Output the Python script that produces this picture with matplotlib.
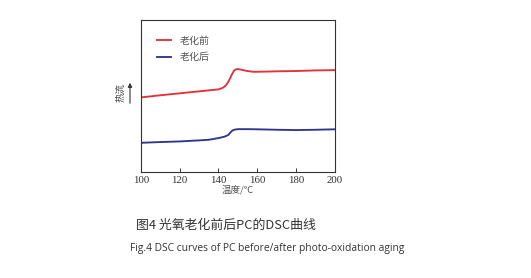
import matplotlib
matplotlib.use("Agg")
import matplotlib.pyplot as plt

# Data (arbitrary heat-flow units)
temp_before = [100, 110, 120, 130, 140, 142, 143, 144, 145, 146, 147, 148, 149, 150, 152, 154, 156, 158, 160, 170, 180, 190, 200]
flow_before = [49.0, 50.4, 51.7, 53.0, 54.3, 55.2, 56.0, 57.2, 59.2, 61.6, 64.4, 66.6, 67.5, 67.7, 67.2, 66.6, 66.2, 65.9, 65.9, 66.2, 66.4, 66.8, 67.0]
temp_after = [100, 110, 120, 130, 135, 140, 143, 145, 146, 147, 148, 150, 155, 160, 170, 180, 190, 200]
flow_after = [19.1, 19.6, 20.0, 20.7, 21.1, 22.2, 23.1, 24.2, 25.7, 27.0, 27.7, 28.1, 28.1, 28.0, 27.7, 27.5, 27.7, 28.0]
xticks = [100, 120, 140, 160, 180, 200]
labels = ["老化前", "老化后"]
caption_cn = "图4 光氧老化前后PC的DSC曲线"
caption_en = "Fig.4 DSC curves of PC before/after photo-oxidation aging"

cjk = ["Noto Sans CJK SC", "DejaVu Sans"]
serif = ["Liberation Serif", "Noto Sans CJK SC"]

fig = plt.figure(figsize=(5.31, 2.78), dpi=100)
ax = fig.add_axes([0.265, 0.382, 0.366, 0.546])
red = "#e2323c"
blue = "#2f3591"
ax.plot(temp_before, flow_before, color=red, lw=1.35, label=labels[0])
ax.plot(temp_after, flow_after, color=blue, lw=1.35, label=labels[1])
ax.set_xlim(100, 200)
ax.set_ylim(0, 100)
ax.set_xticks(xticks)
ax.set_xticklabels([str(t) for t in xticks], family=serif, fontsize=7.8, color="#333333")
ax.set_yticks([])
ax.tick_params(axis="x", direction="in", length=3, width=0.7, color="#333333", pad=3)
for s in ax.spines.values():
    s.set_color("#333333")
    s.set_linewidth(0.8)
ax.set_xlabel("温度/℃", family=["Noto Sans CJK SC", "DejaVu Sans"], fontsize=6.8, color="#555555", labelpad=0)

leg = ax.legend(loc="upper left", bbox_to_anchor=(0.04, 0.955), frameon=False,
                prop={"family": cjk, "size": 7.2}, handlelength=1.4, handletextpad=0.85,
                labelspacing=0.65)
for t in leg.get_texts():
    t.set_color("#555555")

# y label with arrow
fig.text(120.7 / 531, 1 - 93 / 278, "热流", rotation=90, ha="center", va="center",
         family=cjk, fontsize=6.8, color="#444444")
fig.add_artist(matplotlib.patches.FancyArrowPatch((130 / 531, 1 - 106 / 278), (130 / 531, 1 - 80 / 278),
                                                  transform=fig.transFigure, arrowstyle="-|>",
                                                  mutation_scale=6, lw=0.8, color="#333333"))

fig.text(226 / 531, 1 - 225 / 278, caption_cn, ha="center", va="center",
         family=cjk, fontsize=9.3, color="#333333")
fig.text(267.5 / 531, 1 - 248 / 278, caption_en, ha="center", va="center",
         family=["Open Sans", "DejaVu Sans"], fontsize=7.35, color="#333333")

fig.savefig("out.png", dpi=100)
